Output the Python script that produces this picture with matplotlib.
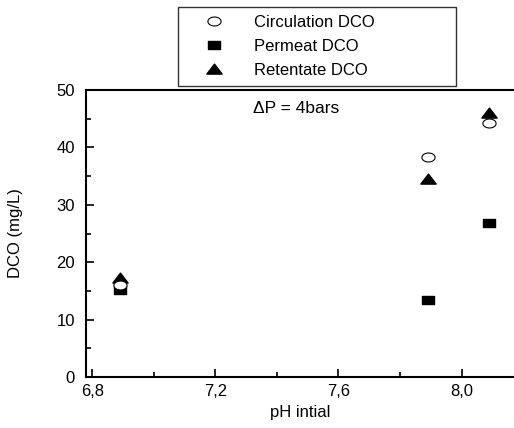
import matplotlib
matplotlib.use("Agg")
import matplotlib.pyplot as plt
import numpy as np
from matplotlib.path import Path
from matplotlib.ticker import MultipleLocator, FuncFormatter

plt.rcParams['font.family'] = ['Liberation Sans', 'DejaVu Sans']

ph = [6.89, 7.89, 8.09]
circulation = [16.0, 38.3, 44.3]
permeat = [15.2, 13.4, 26.8]
retentate = [17.3, 34.5, 46.0]

# markers in the original are a bit wider than tall
t = np.linspace(0, 2 * np.pi, 60)
ellipse = Path(np.column_stack([np.cos(t), 0.68 * np.sin(t)]), closed=True)
rect = Path([(-1, -0.75), (1, -0.75), (1, 0.75), (-1, 0.75), (-1, -0.75)], closed=True)
tri = Path([(-1, -0.6), (1, -0.6), (0, 0.7), (-1, -0.6)], closed=True)

fig = plt.figure(figsize=(5.14, 4.28), dpi=100)
ax = fig.add_axes([86/514, 51/428, 428/514, 287/428])

ax.plot(ph, circulation, ls='none', marker=ellipse, ms=9.5, mfc='white', mec='black', mew=0.8,
        label="Circulation DCO", zorder=3)
ax.plot(ph, permeat, ls='none', marker=rect, ms=8.5, color='black', label="Permeat DCO")
ax.plot(ph, retentate, ls='none', marker=tri, ms=11, color='black', label="Retentate DCO")

ax.set_xlim(6.78, 8.17)
ax.set_ylim(0, 50)
ax.xaxis.set_major_locator(MultipleLocator(0.4))
ax.xaxis.set_minor_locator(MultipleLocator(0.2))
ax.yaxis.set_major_locator(MultipleLocator(10))
ax.yaxis.set_minor_locator(MultipleLocator(5))
ax.xaxis.set_major_formatter(FuncFormatter(lambda v, p: f"{v:.1f}".replace('.', ',')))
ax.tick_params(which='major', direction='in', length=6, width=1.2, labelsize=12)
ax.tick_params(which='minor', direction='in', length=3.5, width=1.2)
ax.tick_params(axis='x', which='major', pad=5)
ax.tick_params(axis='y', which='major', pad=8)

for s in ['left', 'bottom', 'top']:
    ax.spines[s].set_linewidth(1.5)
ax.spines['right'].set_visible(False)

ax.set_xlabel("pH intial", fontsize=12, labelpad=4)
ax.set_ylabel("DCO (mg/L)", fontsize=12, labelpad=24)
ax.text(0.39, 0.935, "ΔP = 4bars", transform=ax.transAxes, fontsize=12.5, ha='left', va='center')

leg = fig.legend(loc='upper left', bbox_to_anchor=(178/514, 1 - 82/428, 278/514, 75/428),
                 bbox_transform=fig.transFigure, mode='expand', fontsize=12,
                 frameon=True, fancybox=False, edgecolor='black', borderpad=0.5,
                 handlelength=3.3, handletextpad=0.75, labelspacing=0.52, borderaxespad=0)
leg.get_frame().set_linewidth(1.0)

fig.savefig("out.png", dpi=100)
